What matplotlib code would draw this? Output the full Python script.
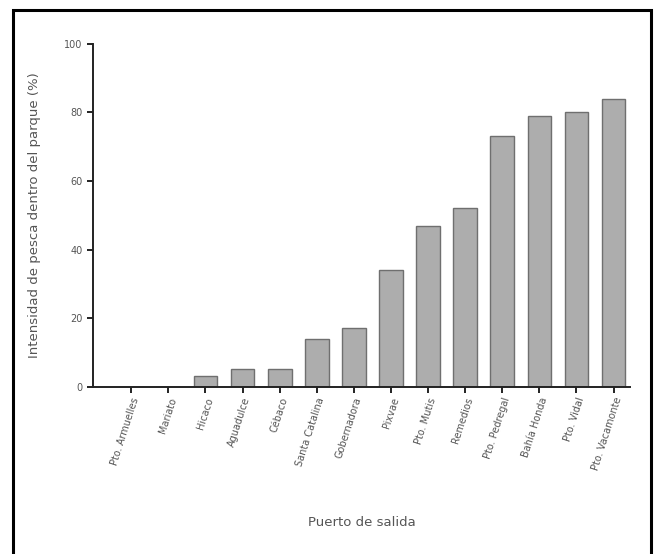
import matplotlib
matplotlib.use("Agg")
import matplotlib.pyplot as plt
from matplotlib.patches import Rectangle

puertos = ["Pto. Armuelles", "Mariato", "Hicaco", "Aguadulce", "Cébaco",
           "Santa Catalina", "Gobernadora", "Pixvae", "Pto. Mutis", "Remedios",
           "Pto. Pedregal", "Bahía Honda", "Pto. Vidal", "Pto. Vacamonte"]
intensidad = [0, 0, 3, 5, 5, 14, 17, 34, 47, 52, 73, 79, 80, 84]
yticks = [0, 20, 40, 60, 80, 100]

plt.rcParams["font.family"] = ["DejaVu Sans"]

fig = plt.figure(figsize=(6.61, 5.54), dpi=100)
ax = fig.add_axes([0.1407, 0.3023, 0.8123, 0.6183])

x = range(len(puertos))
ax.bar(x, intensidad, width=0.64, color="#adadad", edgecolor="#6f6f6f",
       linewidth=1.0, zorder=2)

ax.set_xlim(-1.03, len(puertos) - 1 + 0.44)
ax.set_ylim(0, 100)
ax.set_yticks(yticks)
ax.set_yticklabels([str(v) for v in yticks])
ax.set_xticks(list(x))
ax.set_xticklabels(puertos, rotation=72, ha="right", rotation_mode="anchor")

for s in ("top", "right"):
    ax.spines[s].set_visible(False)
for s in ("left", "bottom"):
    ax.spines[s].set_color("#222222")
    ax.spines[s].set_linewidth(1.4)

ax.tick_params(axis="both", direction="out", length=4, width=1.4,
               color="#222222", labelcolor="#555555", labelsize=7)
ax.tick_params(axis="x", pad=3)

ax.set_ylabel("Intensidad de pesca dentro del parque (%)", fontsize=9.5,
              color="#555555", labelpad=17)
fig.text(0.548, 0.057, "Puerto de salida", fontsize=9.5, color="#555555",
         ha="center", va="center")

# black frame around the figure
fig.patches.append(Rectangle((0.0195, -0.05), 0.966, 1.032,
                             transform=fig.transFigure, fill=False,
                             edgecolor="black", linewidth=2.2))

fig.savefig("out.png", dpi=100, facecolor="white")
